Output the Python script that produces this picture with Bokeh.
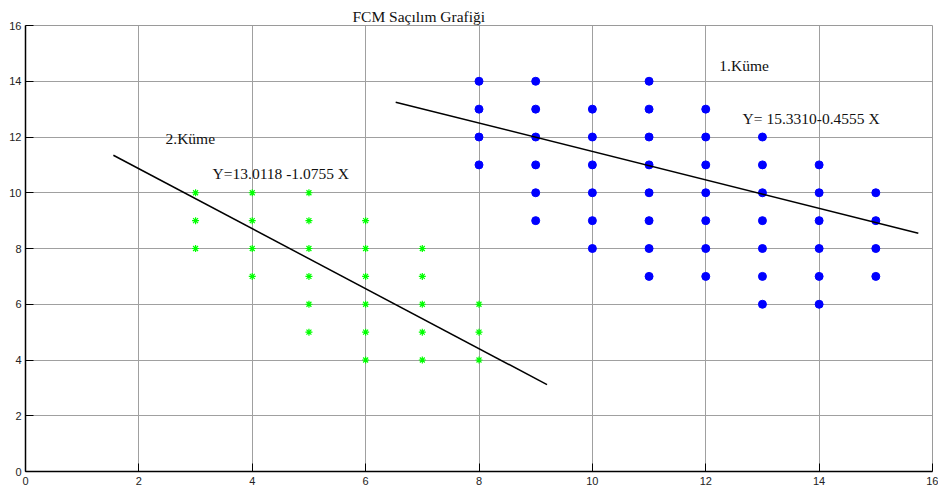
from bokeh.plotting import figure
from bokeh.models import Range1d, FixedTicker, Label, Title
from bokeh.embed import file_html
from bokeh.resources import INLINE

# Cluster 1 (blue dots)
c1_x = [8, 8, 8, 8,
        9, 9, 9, 9, 9, 9,
        10, 10, 10, 10, 10, 10,
        11, 11, 11, 11, 11, 11, 11, 11,
        12, 12, 12, 12, 12, 12, 12,
        13, 13, 13, 13, 13, 13, 13,
        14, 14, 14, 14, 14, 14,
        15, 15, 15, 15]
c1_y = [14, 13, 12, 11,
        14, 13, 12, 11, 10, 9,
        13, 12, 11, 10, 9, 8,
        14, 13, 12, 11, 10, 9, 8, 7,
        13, 12, 11, 10, 9, 8, 7,
        12, 11, 10, 9, 8, 7, 6,
        11, 10, 9, 8, 7, 6,
        10, 9, 8, 7]

# Cluster 2 (green stars)
c2_x = [3, 3, 3,
        4, 4, 4, 4,
        5, 5, 5, 5, 5, 5,
        6, 6, 6, 6, 6, 6,
        7, 7, 7, 7, 7,
        8, 8, 8]
c2_y = [10, 9, 8,
        10, 9, 8, 7,
        10, 9, 8, 7, 6, 5,
        9, 8, 7, 6, 5, 4,
        8, 7, 6, 5, 4,
        6, 5, 4]

# Fitted line of cluster 2: Y = 13.0118 - 1.0755 X
fit2_a, fit2_b = 13.0118, -1.0755
fit2_xrange = [1.55, 9.2]
# Line drawn through cluster 1
fit1_x = [6.53, 15.75]
fit1_y = [13.25, 8.55]

ticks = [0, 2, 4, 6, 8, 10, 12, 14, 16]

serif = "Liberation Serif"
sans = "Liberation Sans"

p = figure(width=938, height=493, output_backend="svg", toolbar_location=None,
           x_range=Range1d(0, 16), y_range=Range1d(0, 16),
           min_border_left=25, min_border_right=6, min_border_top=25,
           min_border_bottom=22, background_fill_color="white",
           border_fill_color="white")

p.title = Title(text="FCM Saçılım Grafiği", text_font=serif, text_font_size="15.5px",
                text_font_style="normal", text_color="#111111", align="left",
                offset=327, standoff=2)

p.outline_line_color = "#9a9a9a"
for ax in (p.xaxis[0], p.yaxis[0]):
    ax.ticker = FixedTicker(ticks=ticks)
    ax.major_tick_in = 8
    ax.major_tick_out = 0
    ax.minor_tick_in = 0
    ax.minor_tick_out = 0
    ax.axis_line_color = "black"
    ax.axis_line_width = 1.5
    ax.major_tick_line_color = "black"
    ax.major_label_text_font = sans
    ax.major_label_text_font_size = "11px"
    ax.major_label_text_color = "#222222"
p.xaxis.major_label_standoff = 5
p.yaxis.major_label_standoff = 4

p.xgrid.ticker = FixedTicker(ticks=ticks)
p.ygrid.ticker = FixedTicker(ticks=ticks)
for g in (p.xgrid[0], p.ygrid[0]):
    g.grid_line_color = "#a0a0a0"
    g.grid_line_width = 1

p.scatter(c1_x, c1_y, marker="circle", size=8, fill_color="#0000ff",
          line_color="#0000ff")
p.scatter(c2_x, c2_y, marker="asterisk", size=7, line_color="#00ff00",
          line_width=1.2)

fit2_y = [fit2_a + fit2_b * x for x in fit2_xrange]
p.line(fit2_xrange, fit2_y, line_color="black", line_width=1.5)
p.line(fit1_x, fit1_y, line_color="black", line_width=1.5)

labels = [("2.Küme", 2.47, 11.94),
          ("Y=13.0118 -1.0755 X", 3.3, 10.68),
          ("1.Küme", 12.24, 14.56),
          ("Y= 15.3310-0.4555 X", 12.65, 12.66)]
for txt, lx, ly in labels:
    p.add_layout(Label(x=lx, y=ly, text=txt, text_font=serif,
                       text_font_size="15.5px", text_baseline="middle",
                       text_color="#111111"))

open("out.html", "w").write(file_html(p, INLINE))
